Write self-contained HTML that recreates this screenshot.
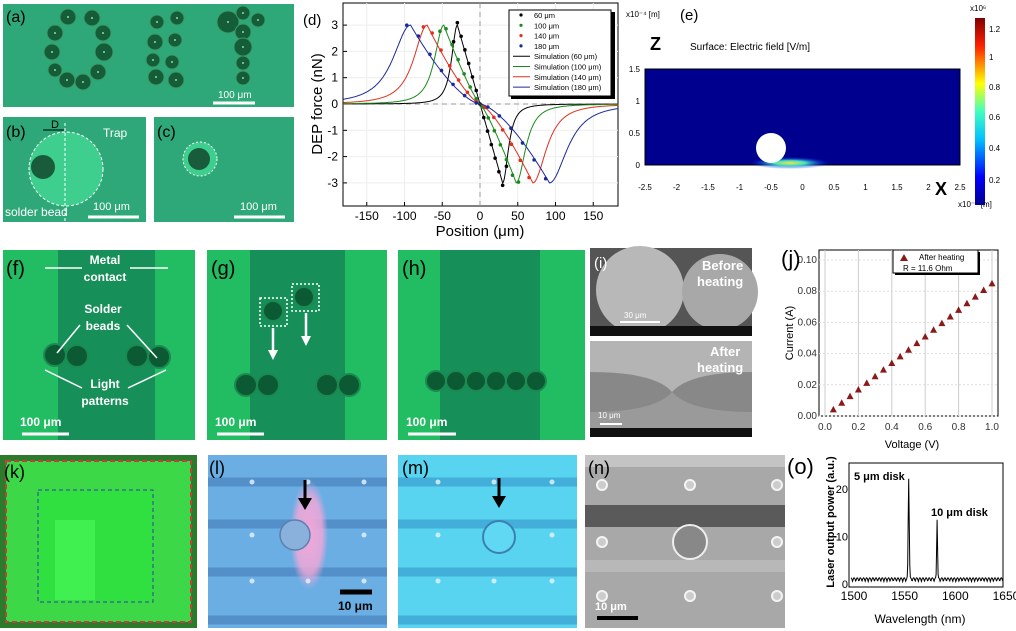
<!DOCTYPE html>
<html><head><meta charset="utf-8"><style>
body{margin:0;background:#fff;width:1016px;height:631px;overflow:hidden}
svg{display:block;font-family:"Liberation Sans",Arial,sans-serif}
</style></head><body>
<svg id="s" width="1016" height="631" viewBox="0 0 1016 631" xmlns="http://www.w3.org/2000/svg">
<defs>
<linearGradient id="jet" x1="0" y1="1" x2="0" y2="0">
<stop offset="0" stop-color="#00008f"/><stop offset="0.15" stop-color="#0000ff"/><stop offset="0.35" stop-color="#00c0ff"/><stop offset="0.5" stop-color="#40ffc0"/><stop offset="0.65" stop-color="#ffff00"/><stop offset="0.85" stop-color="#ff2000"/><stop offset="1" stop-color="#800000"/>
</linearGradient>
<radialGradient id="pink"><stop offset="0" stop-color="#f4a8d8"/><stop offset="0.7" stop-color="#f4a8d8" stop-opacity="0.8"/><stop offset="1" stop-color="#f4a8d8" stop-opacity="0"/></radialGradient>
<radialGradient id="glow"><stop offset="0" stop-color="#ffe040"/><stop offset="0.4" stop-color="#40e0c0"/><stop offset="1" stop-color="#0020ff" stop-opacity="0"/></radialGradient>
</defs>
<!-- (a) -->
<rect x="3" y="4" width="291" height="103" fill="#2ea878"/>
<g id="beads"></g>
<text x="6" y="22" font-size="16" fill="#000">(a)</text>
<line x1="213" y1="103" x2="255" y2="103" stroke="#fff" stroke-width="3"/>
<text x="218" y="98" font-size="10" fill="#fff">100 μm</text>
<!-- (b) -->
<rect x="3" y="117" width="143" height="105" fill="#2ea878"/>
<circle cx="66" cy="169" r="37" fill="#3ecf8e" stroke="#fff" stroke-dasharray="3 2"/>
<circle cx="43" cy="167" r="12" fill="#185c3c"/>
<line x1="65" y1="123" x2="65" y2="222" stroke="#fff" stroke-dasharray="3 2"/>
<line x1="43" y1="130" x2="64" y2="130" stroke="#000"/>
<text x="6" y="137" font-size="16">(b)</text>
<text x="51" y="128" font-size="11">D</text>
<text x="103" y="137" font-size="12" fill="#fff">Trap</text>
<text x="5" y="216" font-size="12" fill="#fff">solder bead</text>
<line x1="88" y1="217" x2="139" y2="217" stroke="#fff" stroke-width="3"/>
<text x="93" y="210" font-size="11" fill="#fff">100 μm</text>
<!-- (c) -->
<rect x="154" y="117" width="140" height="105" fill="#2ea878"/>
<circle cx="200" cy="159" r="17" fill="#3ecf8e" stroke="#fff" stroke-dasharray="2 2"/>
<circle cx="199" cy="159" r="11" fill="#185c3c"/>
<text x="157" y="137" font-size="16">(c)</text>
<line x1="234" y1="217" x2="285" y2="217" stroke="#fff" stroke-width="3"/>
<text x="240" y="210" font-size="11" fill="#fff">100 μm</text>
<!-- (d) -->
<g id="d"></g>
<!-- (e) -->
<rect x="645" y="69" width="315" height="96" fill="#00008f" stroke="#000"/>
<ellipse cx="790" cy="163" rx="40" ry="6" fill="url(#glow)"/>
<circle cx="771" cy="148" r="15" fill="#fff"/>
<text x="680" y="20" font-size="15">(e)</text>
<text x="626" y="17" font-size="8">x10⁻⁴ [m]</text>
<text x="650" y="50" font-size="18" font-weight="bold">Z</text>
<text x="690" y="50" font-size="10">Surface: Electric field  [V/m]</text>
<text x="935" y="195" font-size="18" font-weight="bold">X</text>
<g id="e" font-size="8"></g>
<rect x="975" y="18" width="10" height="187" fill="url(#jet)"/>
<text x="970" y="11" font-size="8">x10⁶</text>
<!-- row 2 -->
<rect x="3" y="250" width="192" height="190" fill="#22bc62"/><rect x="58" y="250" width="97" height="190" fill="#178f58"/>
<rect x="207" y="250" width="180" height="190" fill="#22bc62"/><rect x="250" y="250" width="95" height="190" fill="#178f58"/>
<rect x="398" y="250" width="187" height="190" fill="#22bc62"/><rect x="440" y="250" width="100" height="190" fill="#178f58"/>
<g fill="#0c5a34" stroke="#1a8a50" stroke-width="2">
<circle cx="55" cy="355" r="11"/><circle cx="77" cy="356" r="11"/><circle cx="137" cy="356" r="11"/><circle cx="159" cy="357" r="11"/>
<circle cx="246" cy="385" r="11"/><circle cx="268" cy="385" r="11"/><circle cx="327" cy="385" r="11"/><circle cx="349" cy="385" r="11"/>
<circle cx="273" cy="311" r="10"/><circle cx="304" cy="297" r="10"/>
<circle cx="436" cy="381" r="10"/><circle cx="456" cy="381" r="10"/><circle cx="476" cy="381" r="10"/><circle cx="496" cy="381" r="10"/><circle cx="516" cy="381" r="10"/><circle cx="536" cy="381" r="10"/>
</g>
<g fill="none" stroke="#fff" stroke-width="1.5" stroke-dasharray="2 2"><rect x="260" y="298" width="27" height="28"/><rect x="292" y="284" width="27" height="27"/></g>
<g stroke="#fff" stroke-width="2.5"><line x1="273" y1="328" x2="273" y2="352"/><line x1="306" y1="313" x2="306" y2="338"/></g>
<path d="M268 350 L273 360 L278 350Z M301 336 L306 346 L311 336Z" fill="#fff"/>
<g stroke="#fff" stroke-width="1.5"><line x1="45" y1="268" x2="82" y2="268"/><line x1="130" y1="268" x2="168" y2="268"/>
<line x1="80" y1="325" x2="57" y2="353"/><line x1="127" y1="325" x2="157" y2="358"/><line x1="45" y1="370" x2="82" y2="388"/><line x1="166" y1="370" x2="128" y2="388"/></g>
<g font-size="20"><text x="6" y="275">(f)</text><text x="211" y="275">(g)</text><text x="402" y="275">(h)</text></g>
<g font-size="12" font-weight="bold" fill="#fff" text-anchor="middle">
<text x="105" y="264">Metal</text><text x="105" y="281">contact</text>
<text x="103" y="313">Solder</text><text x="103" y="330">beads</text>
<text x="105" y="388">Light</text><text x="105" y="405">patterns</text></g>
<g stroke="#fff" stroke-width="3"><line x1="22" y1="434" x2="69" y2="434"/><line x1="217" y1="434" x2="264" y2="434"/><line x1="408" y1="434" x2="456" y2="434"/></g>
<g font-size="12" font-weight="bold" fill="#fff"><text x="20" y="426">100 μm</text><text x="215" y="426">100 μm</text><text x="406" y="426">100 μm</text></g>
<!-- (i) -->
<rect x="590" y="248" width="162" height="88" fill="#555"/>
<circle cx="640" cy="290" r="44" fill="#b8b8b8"/><circle cx="720" cy="292" r="38" fill="#a8a8a8"/>
<rect x="590" y="326" width="162" height="10" fill="#111"/>
<rect x="590" y="341" width="162" height="96" fill="#888"/>
<path d="M590 341 H752 V372 Q690 372 672 392 Q655 372 590 372Z" fill="#b4b4b4"/>
<path d="M590 428 H752 V412 Q690 412 672 392 Q655 412 590 412Z" fill="#9a9a9a"/>
<rect x="590" y="428" width="162" height="9" fill="#111"/>
<text x="594" y="268" font-size="15" fill="#fff">(i)</text>
<text x="702" y="270" font-size="13" font-weight="bold" fill="#fff">Before</text><text x="697" y="286" font-size="13" font-weight="bold" fill="#fff">heating</text>
<text x="710" y="356" font-size="13" font-weight="bold" fill="#fff">After</text><text x="697" y="372" font-size="13" font-weight="bold" fill="#fff">heating</text>
<line x1="620" y1="322" x2="660" y2="322" stroke="#fff" stroke-width="2"/>
<text x="624" y="318" font-size="8" fill="#fff">30 μm</text>
<line x1="600" y1="424" x2="622" y2="424" stroke="#fff" stroke-width="2"/>
<text x="598" y="418" font-size="8" fill="#fff">10 μm</text>
<g id="j"></g>
<!-- row 3 -->
<rect x="0" y="455" width="197" height="173" fill="#2c7a2c"/>
<rect x="6" y="461" width="185" height="161" fill="#3cd848" stroke="#c04040" stroke-width="2" stroke-dasharray="5 3"/>
<rect x="38" y="490" width="115" height="112" fill="#30e040" stroke="#3040a0" stroke-dasharray="4 3"/>
<rect x="55" y="520" width="40" height="80" fill="#40f050"/>
<text x="4" y="478" font-size="18">(k)</text>
<rect x="208" y="455" width="179" height="173" fill="#6aaee4"/>
<rect x="398" y="455" width="179" height="173" fill="#58d4f0"/>
<g stroke="#4a84c0" stroke-width="9" opacity="0.7">
<line x1="208" y1="482" x2="387" y2="482"/><line x1="208" y1="524" x2="387" y2="524"/><line x1="208" y1="572" x2="387" y2="572"/><line x1="208" y1="620" x2="387" y2="620"/></g>
<g stroke="#3a9ed0" stroke-width="9" opacity="0.7">
<line x1="398" y1="482" x2="577" y2="482"/><line x1="398" y1="524" x2="577" y2="524"/><line x1="398" y1="572" x2="577" y2="572"/><line x1="398" y1="620" x2="577" y2="620"/></g>
<rect x="290" y="480" width="38" height="110" rx="12" fill="url(#pink)"/>
<circle cx="295" cy="535" r="15" fill="#8ab0dc" stroke="#5a80b0" stroke-width="1.5"/>
<circle cx="499" cy="537" r="16" fill="#60d8f4" stroke="#3a80b0" stroke-width="2"/>
<g fill="#e8f4ff" opacity="0.8"><circle cx="252" cy="482" r="2.5"/><circle cx="308" cy="482" r="2.5"/><circle cx="364" cy="482" r="2.5"/><circle cx="252" cy="535" r="2.5"/><circle cx="364" cy="535" r="2.5"/><circle cx="252" cy="581" r="2.5"/><circle cx="308" cy="581" r="2.5"/><circle cx="364" cy="581" r="2.5"/>
<circle cx="438" cy="482" r="2.5"/><circle cx="494" cy="482" r="2.5"/><circle cx="552" cy="482" r="2.5"/><circle cx="438" cy="535" r="2.5"/><circle cx="552" cy="535" r="2.5"/><circle cx="438" cy="581" r="2.5"/><circle cx="494" cy="581" r="2.5"/><circle cx="552" cy="581" r="2.5"/></g>
<g stroke="#000" stroke-width="3"><line x1="305" y1="480" x2="305" y2="500"/><line x1="499" y1="478" x2="499" y2="498"/></g>
<path d="M298 498 L305 510 L312 498Z M492 496 L499 508 L506 496Z"/>
<text x="209" y="474" font-size="18">(l)</text><text x="402" y="474" font-size="18">(m)</text>
<line x1="340" y1="592" x2="372" y2="592" stroke="#000" stroke-width="5"/><text x="338" y="610" font-size="12" font-weight="bold">10 μm</text>
<rect x="585" y="455" width="200" height="173" fill="#a8a8a8"/>
<rect x="585" y="455" width="200" height="12" fill="#c4c4c4"/>
<rect x="585" y="505" width="200" height="22" fill="#5a5a5a"/>
<rect x="585" y="560" width="200" height="12" fill="#b8b8b8"/>
<circle cx="690" cy="542" r="17" fill="#888" stroke="#eee" stroke-width="2"/>
<g fill="#ccc" stroke="#f4f4f4" stroke-width="2"><circle cx="602" cy="485" r="5"/><circle cx="690" cy="485" r="5"/><circle cx="777" cy="485" r="5"/><circle cx="602" cy="542" r="5"/><circle cx="777" cy="542" r="5"/><circle cx="602" cy="596" r="5"/><circle cx="690" cy="596" r="5"/><circle cx="777" cy="596" r="5"/></g>
<text x="588" y="474" font-size="18">(n)</text>
<line x1="597" y1="618" x2="638" y2="618" stroke="#000" stroke-width="4"/><text x="595" y="610" font-size="11" font-weight="bold" fill="#fff">10 μm</text>
<g id="o"></g>
</svg>
<script>
const NS="http://www.w3.org/2000/svg";
function el(p,t,a,txt){const e=document.createElementNS(NS,t);for(const k in a)e.setAttribute(k,a[k]);if(txt!==undefined)e.textContent=txt;p.appendChild(e);return e;}
const sq=v=>v*v;
const B=document.getElementById('beads');
[[68,17,8],[92,18,8],[55,33,8],[103,33,8],[52,52,8],[104,52,9],[55,70,7],[98,72,8],[67,80,8],[83,82,8],
[157,22,7],[177,18,7],[155,42,8],[175,40,7],[153,60,7],[172,62,7],[156,77,8],[176,80,8],
[228,22,11],[243,13,7],[258,20,7],[243,32,8],[243,47,9],[243,63,7],[243,78,7]].forEach(p=>{el(B,'circle',{cx:p[0],cy:p[1],r:p[2],fill:'#155c38',stroke:'#3a9a68','stroke-width':1});el(B,'circle',{cx:p[0],cy:p[1],r:1,fill:'#8fd8a8'});});
// (d)
const D=document.getElementById('d');
const X=v=>480+v*0.755, Y=v=>104-v*26.3;
el(D,'rect',{x:343,y:3,width:275,height:203,fill:'#fff',stroke:'#000'});
[-150,-100,-50,0,50,100,150].forEach(v=>{el(D,'line',{x1:X(v),y1:3,x2:X(v),y2:206,stroke:'#eee'});el(D,'line',{x1:X(v),y1:206,x2:X(v),y2:202,stroke:'#000'});el(D,'text',{x:X(v),y:220,'font-size':12,'text-anchor':'middle'},v);});
[-3,-2,-1,0,1,2,3].forEach(v=>{el(D,'line',{x1:343,y1:Y(v),x2:618,y2:Y(v),stroke:'#eee'});el(D,'line',{x1:343,y1:Y(v),x2:347,y2:Y(v),stroke:'#000'});el(D,'text',{x:338,y:Y(v)+4,'font-size':12,'text-anchor':'end'},v);});
el(D,'line',{x1:343,y1:Y(0),x2:618,y2:Y(0),stroke:'#999','stroke-dasharray':'5 4'});
el(D,'line',{x1:X(0),y1:3,x2:X(0),y2:206,stroke:'#999','stroke-dasharray':'5 4'});
el(D,'text',{x:480,y:236,'font-size':15,'text-anchor':'middle'},'Position (μm)');
el(D,'text',{x:322,y:104,'font-size':15,'text-anchor':'middle',transform:'rotate(-90 322 104)'},'DEP force (nN)');
el(D,'text',{x:303,y:25,'font-size':15},'(d)');
const cols=['#000','#1a8a1a','#e03020','#1a2a9a'],P=[30,48,70,92],pw=[1,1.2,1.35,1.5];
function F(x,i){const s=x<0?1:-1,u=Math.abs(x)/P[i];if(u<=1)return s*3*Math.pow(u,pw[i]);return s*3/Math.pow(1+sq((u-1)/0.35),1.3);}
for(let i=0;i<4;i++){let d='';for(let x=-181;x<=183;x+=1)d+=(d?'L':'M')+X(x).toFixed(1)+' '+Y(F(x,i)).toFixed(1);el(D,'path',{d:d,fill:'none',stroke:cols[i],'stroke-width':1});
for(let x=-P[i]-5;x<=P[i]+5;x+=P[i]/6){el(D,'circle',{cx:X(x),cy:Y(F(x,i)*1.03),r:1.8,fill:cols[i]});}}
el(D,'rect',{x:511,y:12,width:104,height:87,fill:'#000'});
el(D,'rect',{x:509,y:10,width:102,height:86,fill:'#fff',stroke:'#000'});
const lab=['60 μm','100 μm','140 μm','180 μm','Simulation (60 μm)','Simulation (100 μm)','Simulation (140 μm)','Simulation (180 μm)'];
lab.forEach((t,k)=>{const y=18+k*10.3,c=cols[k%4];if(k<4)el(D,'circle',{cx:521,cy:y-3,r:1.6,fill:c});else el(D,'line',{x1:513,y1:y-3,x2:530,y2:y-3,stroke:c});el(D,'text',{x:534,y:y,'font-size':7.5},t);});
// (e) ticks
const E=document.getElementById('e');
[-2.5,-2,-1.5,-1,-0.5,0,0.5,1,1.5,2,2.5].forEach(v=>{const x=645+(v+2.5)*63;el(E,'text',{x:x,y:190,'text-anchor':'middle'},v);});
[[0,165],[0.5,133],[1,101],[1.5,69]].forEach(p=>el(E,'text',{x:640,y:p[1]+3,'text-anchor':'end'},p[0]));
el(E,'text',{x:958,y:207},'x10⁻⁴ [m]');
[[0.2,183],[0.4,151],[0.6,120],[0.8,90],[1,60],[1.2,32]].forEach(p=>el(E,'text',{x:989,y:p[1]},p[0]));
// (j)
const J=document.getElementById('j');
const jx=v=>825+v*167, jy=v=>416-v*1560;
el(J,'rect',{x:819,y:250,width:179,height:166,fill:'#fff',stroke:'#000'});
[0,0.2,0.4,0.6,0.8,1.0].forEach(v=>{el(J,'line',{x1:jx(v),y1:250,x2:jx(v),y2:416,stroke:'#ccc'});el(J,'text',{x:jx(v),y:430,'font-size':10,'text-anchor':'middle','fill':'#333'},v.toFixed(1));});
[0,0.02,0.04,0.06,0.08,0.10].forEach(v=>{el(J,'line',{x1:819,y1:jy(v),x2:998,y2:jy(v),stroke:'#ddd','stroke-dasharray':'2 2'});el(J,'text',{x:817,y:jy(v)+3,'font-size':10,'text-anchor':'end','fill':'#333'},v.toFixed(2));});
for(let k=1;k<=20;k++){const v=k*0.05,x=jx(v),y=jy(v*0.085);el(J,'path',{d:'M'+(x-3.5)+' '+(y+3)+' L'+x+' '+(y-3.5)+' L'+(x+3.5)+' '+(y+3)+'Z',fill:'#8a1a1a'});}
el(J,'rect',{x:895,y:252,width:85,height:23,fill:'#000'});
el(J,'rect',{x:893,y:250,width:85,height:23,fill:'#fff',stroke:'#000'});
el(J,'path',{d:'M900 261 L904 254 L908 261Z',fill:'#8a1a1a'});
el(J,'text',{x:919,y:260,'font-size':8},'After heating');el(J,'text',{x:903,y:271,'font-size':8},'R = 11.6 Ohm');
el(J,'text',{x:912,y:448,'font-size':11,'text-anchor':'middle'},'Voltage (V)');
el(J,'text',{x:793,y:333,'font-size':11,'text-anchor':'middle',transform:'rotate(-90 793 333)'},'Current (A)');
el(J,'text',{x:781,y:266,'font-size':22},'(j)');
// (o)
const O=document.getElementById('o');
const ox=v=>851+(v-1500)*1.013, oy=v=>583-v*4.75;
el(O,'rect',{x:849,y:463,width:154,height:124,fill:'#fff',stroke:'#000'});
let dd='';for(let w=1500;w<=1650;w+=0.5){let v=0.3+Math.abs(Math.sin(w*7.3))*0.8;v+=21.5*Math.exp(-sq((w-1557)/0.7))+13*Math.exp(-sq((w-1585)/0.6));dd+=(dd?'L':'M')+ox(w).toFixed(1)+' '+oy(v).toFixed(1);}
el(O,'path',{d:dd,fill:'none',stroke:'#000','stroke-width':1});
[1500,1550,1600,1650].forEach(v=>el(O,'text',{x:ox(v)+3,y:600,'font-size':12,'text-anchor':'middle'},v));
[0,10,20].forEach(v=>el(O,'text',{x:848,y:oy(v)+5,'font-size':11,'text-anchor':'end'},v));
el(O,'text',{x:920,y:623,'font-size':12,'text-anchor':'middle'},'Wavelength (nm)');
el(O,'text',{x:834,y:522,'font-size':11,'font-weight':'bold','text-anchor':'middle',transform:'rotate(-90 834 522)'},'Laser output power (a.u.)');
el(O,'text',{x:854,y:480,'font-size':11,'font-weight':'bold'},'5 μm disk');el(O,'text',{x:931,y:516,'font-size':11,'font-weight':'bold'},'10 μm disk');
el(O,'text',{x:787,y:474,'font-size':22},'(o)');
</script>
</body></html>
